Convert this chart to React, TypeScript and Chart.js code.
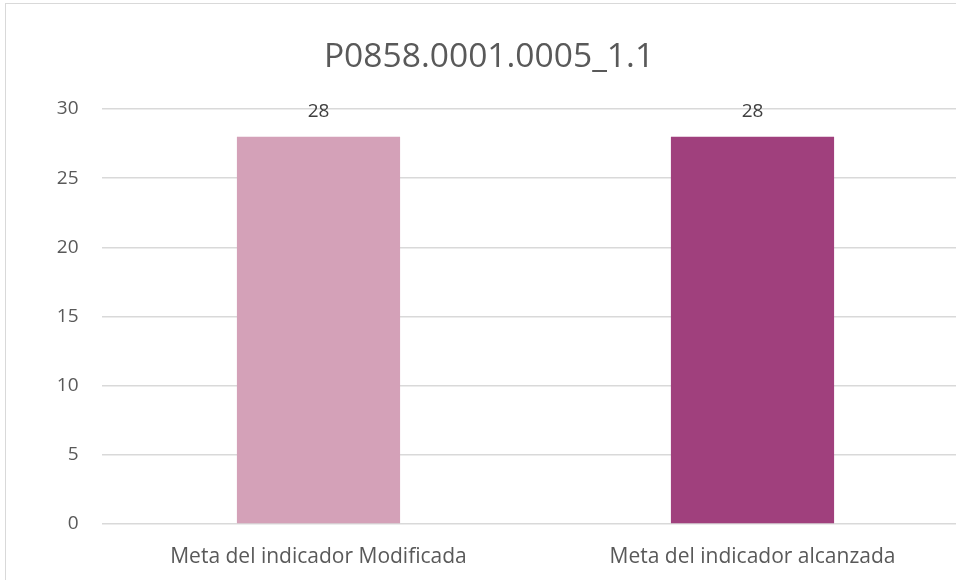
import React, { useEffect, useRef } from "react";
import { Chart, registerables } from "chart.js";

Chart.register(...registerables);

const chartTitle = "P0858.0001.0005_1.1";
const categories = ["Meta del indicador Modificada", "Meta del indicador alcanzada"];
const values = [28, 28];
const barColors = ["#D4A1B8", "#A0407D"];
const yTicks = [0, 5, 10, 15, 20, 25, 30];

const FONT = "'Open Sans', Lato, sans-serif";

export default function App() {
  const ref = useRef<HTMLCanvasElement | null>(null);

  useEffect(() => {
    if (!ref.current) return;
    const overlay = {
      id: "overlay",
      afterDatasetsDraw(chart: any) {
        const ctx = chart.ctx;
        ctx.save();
        ctx.fillStyle = "#404040";
        ctx.font = `19px ${FONT}`;
        ctx.textAlign = "center";
        ctx.textBaseline = "middle";
        const meta = chart.getDatasetMeta(0);
        meta.data.forEach((bar: any, i: number) => {
          ctx.fillText(String(values[i]), bar.x, bar.y - 25);
        });
        ctx.fillStyle = "#595959";
        ctx.font = `33.6px ${FONT}`;
        ctx.fillText(chartTitle, 489, 57.5);
        ctx.restore();
      },
    };
    const chart = new Chart(ref.current, {
      type: "bar",
      data: {
        labels: categories,
        datasets: [
          {
            data: values,
            backgroundColor: barColors,
            barPercentage: 0.376,
            categoryPercentage: 1,
          },
        ],
      },
      options: {
        animation: false,
        responsive: false,
        maintainAspectRatio: false,
        layout: { padding: { top: 109, right: 8.5, left: 0, bottom: 0 } },
        plugins: {
          legend: { display: false },
          title: { display: false },
          tooltip: { enabled: false },
        },
        scales: {
          x: {
            grid: { display: false, drawTicks: false },
            border: { display: false },
            ticks: {
              color: "#595959",
              font: { family: FONT, size: 21 },
              padding: 20,
              maxRotation: 0,
            },
            afterFit(scale: any) {
              scale.height = 56;
            },
          },
          y: {
            min: 0,
            max: 30,
            afterBuildTicks(scale: any) {
              scale.ticks = yTicks.map((v) => ({ value: v }));
            },
            grid: { color: "#D9D9D9", lineWidth: 1.5, drawTicks: false },
            border: { display: false },
            ticks: {
              color: "#595959",
              font: { family: FONT, size: 19 },
              padding: 23,
            },
            afterFit(scale: any) {
              scale.width = 101.5;
            },
          },
        },
      },
      plugins: [overlay],
    });
    return () => chart.destroy();
  }, []);

  return (
    <div
      style={{
        position: "absolute",
        left: 0,
        top: 0,
        width: 956,
        height: 580,
        overflow: "hidden",
        background: "#fff",
      }}
    >
      <canvas ref={ref} width={978} height={580} style={{ position: "absolute", left: 0, top: 0 }} />
      <div
        style={{
          position: "absolute",
          left: 5,
          top: 3,
          width: 1000,
          height: 700,
          border: "1px solid #D9D9D9",
          pointerEvents: "none",
        }}
      />
    </div>
  );
}
